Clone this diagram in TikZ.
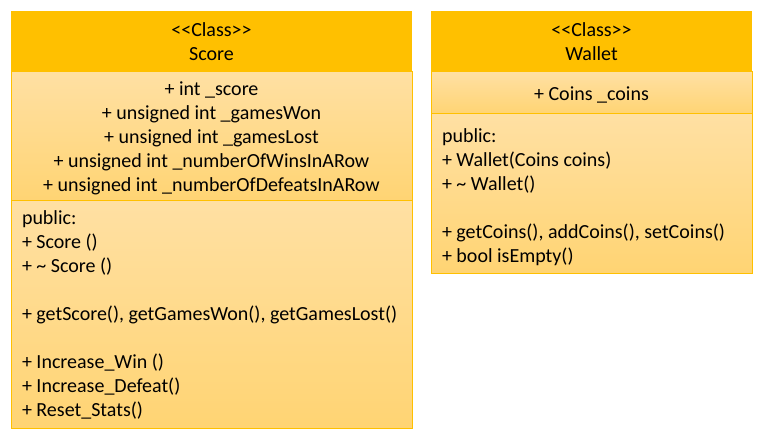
\documentclass[tikz,border=0pt]{standalone}
\usepackage{fontspec}
\setmainfont{Carlito}
\definecolor{gold}{HTML}{FFC000}
\definecolor{lite}{HTML}{FFE0A3}
\definecolor{dark}{HTML}{FFD473}
\begin{document}
\begin{tikzpicture}[x=1pt,y=-1pt,
  every node/.style={inner sep=0pt,outer sep=0pt,font=\fontsize{20}{24}\selectfont,text=black},
  header/.style={fill=gold},
  section/.style={top color=lite,bottom color=dark,draw=gold,line width=1pt},
  txtc/.style={align=center,anchor=north},
  txtl/.style={align=left,anchor=north west}]
\useasboundingbox (0,0) rectangle (764,443);
% Score class
\fill[header] (11,11) rectangle (412,72);
\path[section] (11,72) rectangle (412,201);
\path[section] (11,201) rectangle (412,429);
\node[txtc] (scoreh) at (211.5,23) {<\kern0pt<Class>\kern0pt>\\Score};
\node[txtc] (scorea) at (211.5,82) {+ int \_score\\+ unsigned int \_gamesWon\\+ unsigned int \_gamesLost\\+ unsigned int \_numberOfWinsInARow\\+ unsigned int \_numberOfDefeatsInARow};
\node[txtl] (scorem) at (22,211) {public:\\+ Score ()\\+ \textasciitilde{} Score ()\\\strut\\+ getScore(), getGamesWon(), getGamesLost()\\\strut\\+ Increase\_Win ()\\+ Increase\_Defeat()\\+ Reset\_Stats()};
% Wallet class
\fill[header] (431,11) rectangle (752,72);
\path[section] (431,72) rectangle (752,114);
\path[section] (431,114) rectangle (752,274);
\node[txtc] (walleth) at (591.5,23) {<\kern0pt<Class>\kern0pt>\\Wallet};
\node[txtc] (walleta) at (591.5,87) {+ Coins \_coins};
\node[txtl] (walletm) at (442,129) {public:\\+ Wallet(Coins coins)\\+ \textasciitilde{} Wallet()\\\strut\\+ getCoins(), addCoins(), setCoins()\\+ bool isEmpty()};
\end{tikzpicture}
\end{document}
